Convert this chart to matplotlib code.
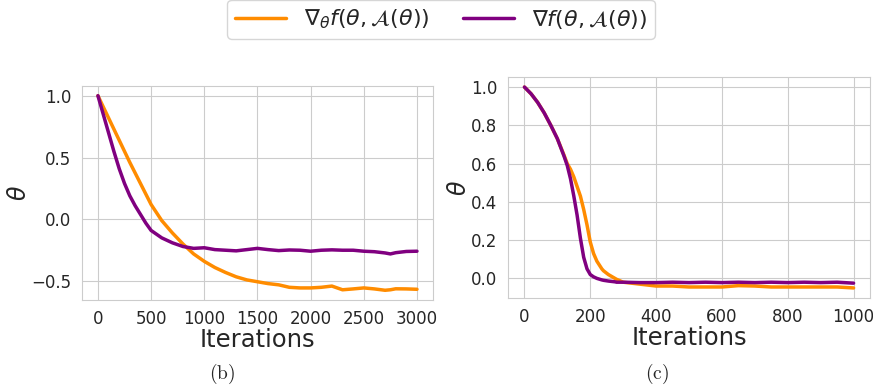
import matplotlib
matplotlib.use("Agg")
import matplotlib.pyplot as plt
import seaborn as sns

# panel (b): theta vs iterations
iters_b = [0, 50, 100, 150, 200, 250, 300, 350, 400, 450, 500, 600, 700, 800, 900,
           1000, 1100, 1200, 1300, 1400, 1500, 1600, 1700, 1800, 1900, 2000, 2100,
           2200, 2300, 2400, 2500, 2600, 2700, 2750, 2800, 2900, 3000]
partial_b = [1.0, 0.91, 0.82, 0.73, 0.64, 0.55, 0.46, 0.375, 0.29, 0.205, 0.12, -0.01,
             -0.11, -0.2, -0.28, -0.34, -0.39, -0.43, -0.465, -0.49, -0.505, -0.52,
             -0.53, -0.55, -0.555, -0.555, -0.55, -0.54, -0.57, -0.563, -0.555,
             -0.563, -0.574, -0.57, -0.562, -0.563, -0.566]
total_b = [1.0, 0.85, 0.70, 0.55, 0.41, 0.29, 0.19, 0.11, 0.04, -0.03, -0.09, -0.15,
           -0.19, -0.22, -0.235, -0.23, -0.245, -0.25, -0.255, -0.245, -0.235, -0.245,
           -0.253, -0.248, -0.25, -0.258, -0.25, -0.247, -0.25, -0.25, -0.258, -0.262,
           -0.272, -0.28, -0.27, -0.26, -0.258]

# panel (c)
iters_c = [0, 20, 40, 60, 80, 100, 120, 130, 140, 150, 160, 170, 180, 190, 200, 210,
           220, 235, 240, 255, 260, 275, 280, 300, 350, 400, 450, 500, 550, 600, 650,
           700, 750, 800, 850, 900, 950, 1000]
partial_c = [1.0, 0.965, 0.92, 0.865, 0.80, 0.73, 0.645, 0.60, 0.57, 0.53, 0.48, 0.43,
             0.36, 0.28, 0.19, 0.13, 0.09, 0.05, 0.04, 0.02, 0.015, 0.0, -0.005, -0.02,
             -0.03, -0.04, -0.04, -0.045, -0.045, -0.045, -0.038, -0.04, -0.045,
             -0.045, -0.045, -0.045, -0.045, -0.05]
total_c = [1.0, 0.965, 0.92, 0.865, 0.80, 0.73, 0.64, 0.59, 0.52, 0.43, 0.33, 0.21,
           0.11, 0.05, 0.02, 0.008, 0.0, -0.008, -0.01, -0.014, -0.015, -0.018, -0.02,
           -0.02, -0.022, -0.022, -0.02, -0.022, -0.02, -0.022, -0.02, -0.022, -0.02,
           -0.022, -0.02, -0.022, -0.02, -0.025]

labels = [r"$\nabla_\theta f(\theta, \mathcal{A}(\theta))$",
          r"$\nabla f(\theta, \mathcal{A}(\theta))$"]
colors = ["darkorange", "purple"]

sns.set_style("whitegrid")
plt.rcParams["font.family"] = ["DejaVu Sans"]

fig = plt.figure(figsize=(8.73, 3.87), dpi=100)
ax_b = fig.add_axes([0.0939, 0.2248, 0.402, 0.553])
ax_c = fig.add_axes([0.5819, 0.23, 0.4147, 0.571])

for ax, x, ys in [(ax_b, iters_b, [partial_b, total_b]),
                  (ax_c, iters_c, [partial_c, total_c])]:
    for y, c, lab in zip(ys, colors, labels):
        ax.plot(x, y, color=c, lw=2.5, label=lab)
    ax.set_xlabel("Iterations", fontsize=17.5, labelpad=0)
    ax.set_ylabel(r"$\theta$", fontsize=17, labelpad=0)
    ax.tick_params(labelsize=12, pad=4, colors="#262626")

ax_b.set_yticks([-0.5, 0.0, 0.5, 1.0])
ax_b.set_xticks([0, 500, 1000, 1500, 2000, 2500, 3000])
ax_c.set_xticks([0, 200, 400, 600, 800, 1000])
ax_c.set_yticks([0.0, 0.2, 0.4, 0.6, 0.8, 1.0])

handles, labs = ax_b.get_legend_handles_labels()
fig.legend(handles, labs, loc="center", bbox_to_anchor=(0.505, 0.95), ncol=2,
           fontsize=16, frameon=True, handlelength=2.3, columnspacing=1.5,
           borderpad=0.35)

# sub-figure captions in a Computer Modern look
plt.rcParams["mathtext.fontset"] = "cm"
fig.text(0.254, 0.022, r"$\mathrm{(b)}$", fontsize=14, ha="center")
fig.text(0.752, 0.022, r"$\mathrm{(c)}$", fontsize=14, ha="center")

fig.savefig("out.png", dpi=100)
